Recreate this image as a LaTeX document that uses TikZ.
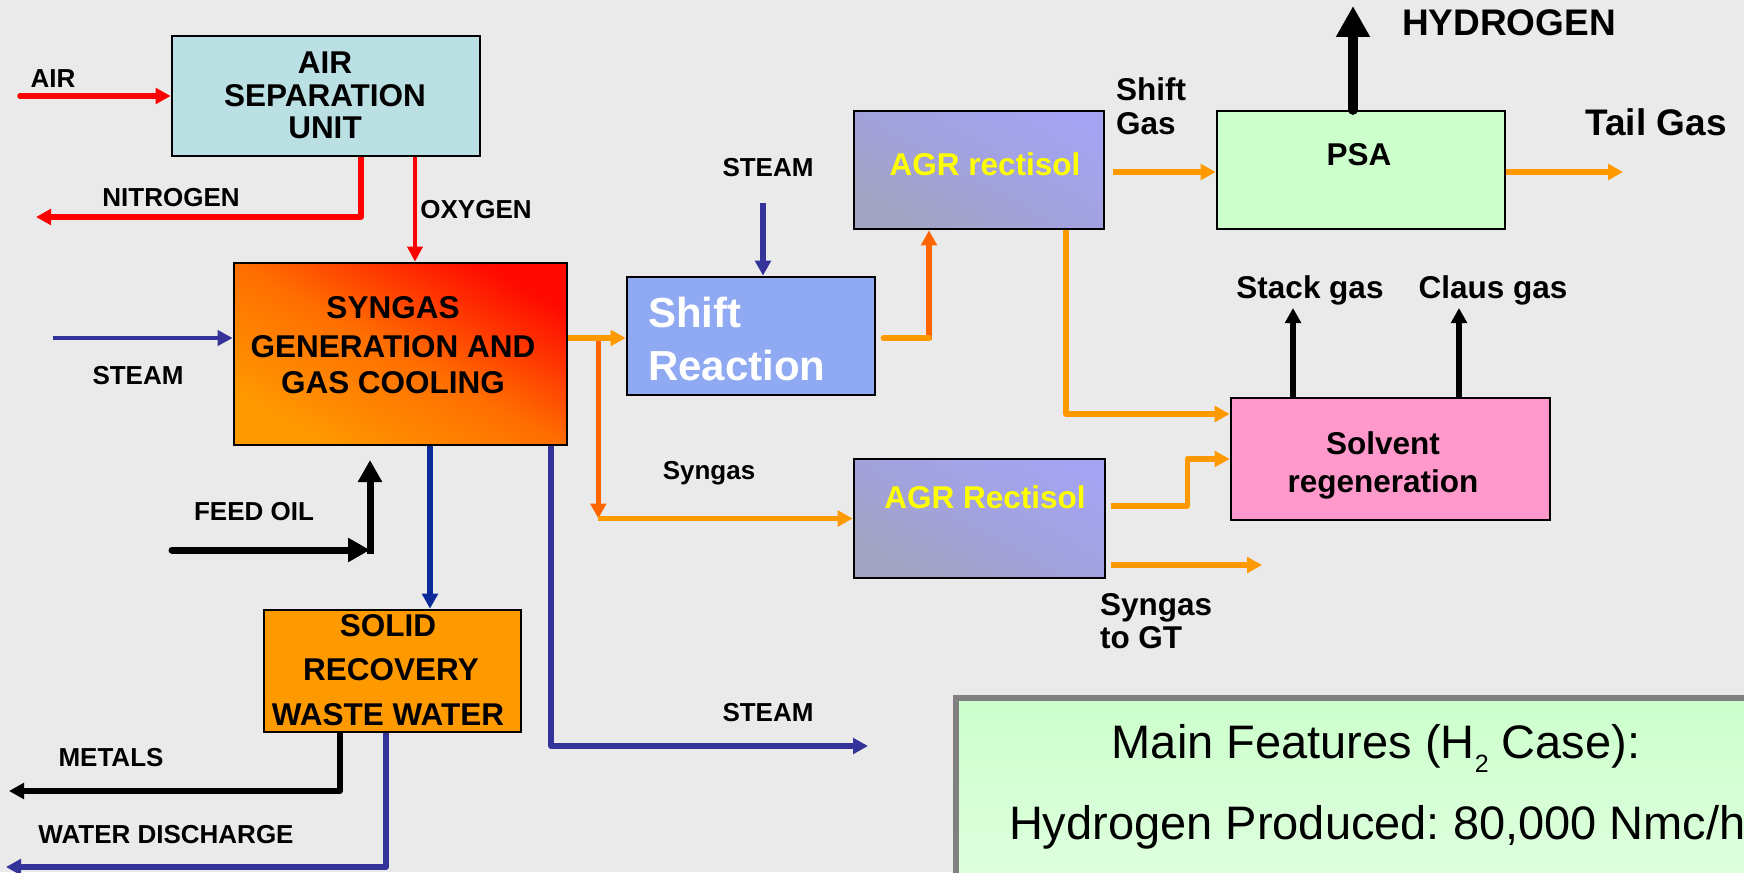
\documentclass[tikz,border=0pt]{standalone}
\usepackage{fontspec}
\setmainfont{Liberation Sans}
\usetikzlibrary{arrows.meta,calc}
\frenchspacing
\definecolor{bgc}{HTML}{EAEAEA}
\definecolor{asufill}{HTML}{BBE0E3}
\definecolor{synor}{HTML}{FF9900}
\definecolor{synmid}{HTML}{FF6E00}
\definecolor{synred}{HTML}{FF0A00}
\definecolor{solidfill}{HTML}{FF9900}
\definecolor{shiftfill}{HTML}{8FA9F2}
\definecolor{agrtop}{HTML}{A4A4F2}
\definecolor{agrmid}{HTML}{A2A2DE}
\definecolor{agrbot}{HTML}{A3A3C3}
\definecolor{psafill}{HTML}{CCFFCC}
\definecolor{solvfill}{HTML}{FF99CC}
\definecolor{lred}{HTML}{FF0000}
\definecolor{lblue}{HTML}{333399}
\definecolor{dblue}{HTML}{0B2A9A}
\definecolor{lorange}{HTML}{FF9900}
\definecolor{dorange}{HTML}{FF6600}
\definecolor{featbot}{HTML}{E6FFE6}
\definecolor{featborder}{HTML}{808080}
\definecolor{agrtext}{HTML}{FFFF00}
\begin{document}
\begin{tikzpicture}[x=1pt,y=-1pt,
  box/.style={draw=black, line width=2.7pt, rectangle, inner sep=0pt},
  tA/.style={font=\fontsize{26}{30}\selectfont\bfseries, inner sep=0pt, outer sep=0pt, text height=18pt, text depth=0pt},
  tB/.style={font=\fontsize{31.5}{36}\selectfont\bfseries, inner sep=0pt, outer sep=0pt, text height=21.7pt, text depth=0pt},
  tC/.style={font=\fontsize{37}{40}\selectfont\bfseries, inner sep=0pt, outer sep=0pt, text height=25.5pt, text depth=0pt},
  tD/.style={font=\fontsize{42}{48}\selectfont\bfseries, inner sep=0pt, outer sep=0pt, text height=28.9pt, text depth=0pt, text=white},
  tF/.style={font=\fontsize{47}{50}\selectfont, inner sep=0pt, outer sep=0pt, text height=32.3pt, text depth=0pt},
  flow/.style={line width=5.5pt, line join=round, -{Triangle[length=15pt,width=15.5pt]}},
  thinflow/.style={line width=4.3pt, line join=round, -{Triangle[length=15pt,width=15pt]}},
  plainline/.style={line width=5.5pt, line join=round},
  bigflow/.style={line width=7pt, -{Triangle[length=22pt,width=23pt]}},
  synshade/.style={top color=synred, bottom color=synor, middle color=synmid, shading angle=-29},
  agrshade/.style={top color=agrtop, bottom color=agrbot, middle color=agrmid, shading angle=-29},
]
\useasboundingbox (0,0) rectangle (1744,872);
\clip (0,0) rectangle (1744,872);
\fill[bgc] (0,0) rectangle (1744,872);

% ---------- boxes ----------
\node[box, fill=asufill, minimum width=308pt, minimum height=120pt] (asu) at (326,96) {};
\node[box, synshade, minimum width=333pt, minimum height=182pt] (syn) at (400.5,354) {};
\node[box, fill=solidfill, minimum width=257pt, minimum height=122pt] (solid) at (392.5,671) {};
\node[box, fill=shiftfill, minimum width=248pt, minimum height=118pt] (shift) at (751,336) {};
\node[box, agrshade, minimum width=250pt, minimum height=118pt] (agr1) at (979,170) {};
\node[box, agrshade, minimum width=251pt, minimum height=119pt] (agr2) at (979.5,518.5) {};
\node[box, fill=psafill, minimum width=288pt, minimum height=118pt] (psa) at (1361,170) {};
\node[box, fill=solvfill, minimum width=319pt, minimum height=122pt] (solv) at (1390.5,459) {};
\node[draw=featborder, line width=6pt, top color=psafill, bottom color=featbot, minimum width=900pt, minimum height=260pt, anchor=north west, inner sep=0pt] (feat) at (953,695) {};

% ---------- connectors ----------
\coordinate (airS) at (20,96);
\draw[flow, lred, line cap=round] (airS) -- (asu.west);

\coordinate (nitE) at (36,217);
\draw[flow, lred] ($(asu.south)+(35,0)$) |- (nitE);

\coordinate (oxS) at ($(asu.south)+(89,0)$);
\draw[thinflow, lred] (oxS) -- (oxS |- syn.north);

\coordinate (stLS) at (53,338);
\draw[thinflow, lblue] (stLS) -- (stLS -| syn.west);

\coordinate (sbS) at ($(syn.south)+(29.5,0)$);
\draw[flow, dblue] (sbS) -- (sbS |- solid.north);

\coordinate (stBE) at (868,746);
\draw[flow, lblue] ($(syn.south)+(150.5,0)$) |- (stBE);

\coordinate (foS) at (172,550);
\coordinate (foC) at (370,550);
\coordinate (foE) at (370,460);
\draw[bigflow, line cap=round] (foS) -- (foC);
\draw[bigflow] ($(foC)+(0,3.5)$) -- (foE);

\coordinate (syO) at ($(syn.east)+(0,-16)$);
\coordinate (brT) at ($(syO)+(30,0)$);
\coordinate (brB) at (brT |- agr2.west);
\draw[flow, dorange] (brT) -- (brB);
\draw[flow, lorange] (syO) -- (syO -| shift.west);
\draw[flow, lorange] (brB) -- (agr2.west);

\coordinate (saS) at ($(shift.east)+(7,2)$);
\coordinate (agrB) at ($(agr1.south)+(-50,0)$);
\draw[flow, dorange] ($(saS -| agrB)+(0,2)$) -- (agrB);
\draw[plainline, lorange, line cap=round] (saS) -- (saS -| agrB);

\coordinate (stTS) at (763,203);
\draw[flow, lblue] (stTS) -- (stTS |- shift.north);

\coordinate (apS) at ($(agr1.east)+(8,2)$);
\draw[flow, lorange] (apS) -- (apS -| psa.west);

\coordinate (tailE) at (1623,172);
\draw[flow, lorange] (psa.east |- tailE) -- (tailE);

\coordinate (hydE) at (1353,6);
\draw[line width=10.5pt, line cap=round, -{Triangle[length=31pt,width=32pt]}] (hydE |- psa.north) -- (hydE);

\coordinate (asS) at ($(agr1.south)+(87,0)$);
\draw[flow, lorange] (asS) |- ($(solv.west)+(0,-45)$);

\coordinate (a2S) at ($(agr2.east)+(5,-12.5)$);
\draw[flow, lorange] (a2S) -- ++(76,0) |- (solv.west);

\coordinate (gtE) at (1262,565);
\draw[flow, lorange] ($(agr2.east)+(5,46.5)$) -- (gtE);

\coordinate (stackE) at (1293,308);
\draw[flow, black] (stackE |- solv.north) -- (stackE);
\coordinate (clausE) at (1459,308);
\draw[flow, black] (clausE |- solv.north) -- (clausE);

\coordinate (metE) at (9,791);
\draw[flow, black] ($(solid.south)+(-52.5,0)$) |- (metE);
\coordinate (watE) at (6,867);
\draw[flow, lblue] ($(solid.south)+(-6.5,0)$) |- (watE);

% ---------- box texts ----------
\node[tB] (asuT1) at (325,63) {AIR};
\node[tB] (asuT2) at (325,96) {SEPARATION};
\node[tB] (asuT3) at (325,128) {UNIT};
\node[tB] (synT1) at (393,308) {SYNGAS};
\node[tB] (synT2) at (393,347) {GENERATION AND};
\node[tB] (synT3) at (393,383) {GAS COOLING};
\node[tB] (solT1) at (388,626) {SOLID};
\node[tB] (solT2) at (391,670) {RECOVERY};
\node[tB] (solT3) at (388,715) {WASTE WATER};
\node[tD, anchor=west] (shT1) at (648,313) {Shift};
\node[tD, anchor=west] (shT2) at (648,366) {Reaction};
\node[tB, text=agrtext] (agr1T) at (985,165) {AGR rectisol};
\node[tB, text=agrtext] (agr2T) at (985,498) {AGR Rectisol};
\node[tB] (psaT) at (1359,155) {PSA};
\node[tB] (solvT1) at (1383,444) {Solvent};
\node[tB] (solvT2) at (1383,482) {regeneration};

% ---------- labels ----------
\node[tA] (lAir) at (53,79) {AIR};
\node[tA] (lNit) at (171,197) {NITROGEN};
\node[tA] (lOxy) at (476,209) {OXYGEN};
\node[tA] (lSt1) at (138,375.5) {STEAM};
\node[tA] (lFeed) at (254,511.5) {FEED OIL};
\node[tA] (lMet) at (111,757.5) {METALS};
\node[tA] (lWat) at (166,834) {WATER DISCHARGE};
\node[tA] (lSt2) at (768,712) {STEAM};
\node[tA] (lSt3) at (768,167.5) {STEAM};
\node[tA] (lSyn) at (709,470) {Syngas};
\node[tB, anchor=west] (lShG1) at (1116,90) {Shift};
\node[tB, anchor=west] (lShG2) at (1116,124) {Gas};
\node[tB, anchor=west] (lGT1) at (1100,605) {Syngas};
\node[tB, anchor=west] (lGT2) at (1100,638) {to GT};
\node[tC] (lHyd) at (1509,23) {HYDROGEN};
\node[tC] (lTail) at (1656,123) {Tail Gas};
\node[tB] (lStack) at (1310,288) {Stack gas};
\node[tB] (lClaus) at (1493,288) {Claus gas};

% ---------- features ----------
\node[tF] (featT1) at (1376,742.5) {Main Features (H\raisebox{-14pt}{\fontsize{25}{25}\selectfont 2} Case):};
\node[tF, anchor=west] (featT2) at (1009,823.5) {Hydrogen Produced: 80,000 Nmc/h};
\end{tikzpicture}
\end{document}
